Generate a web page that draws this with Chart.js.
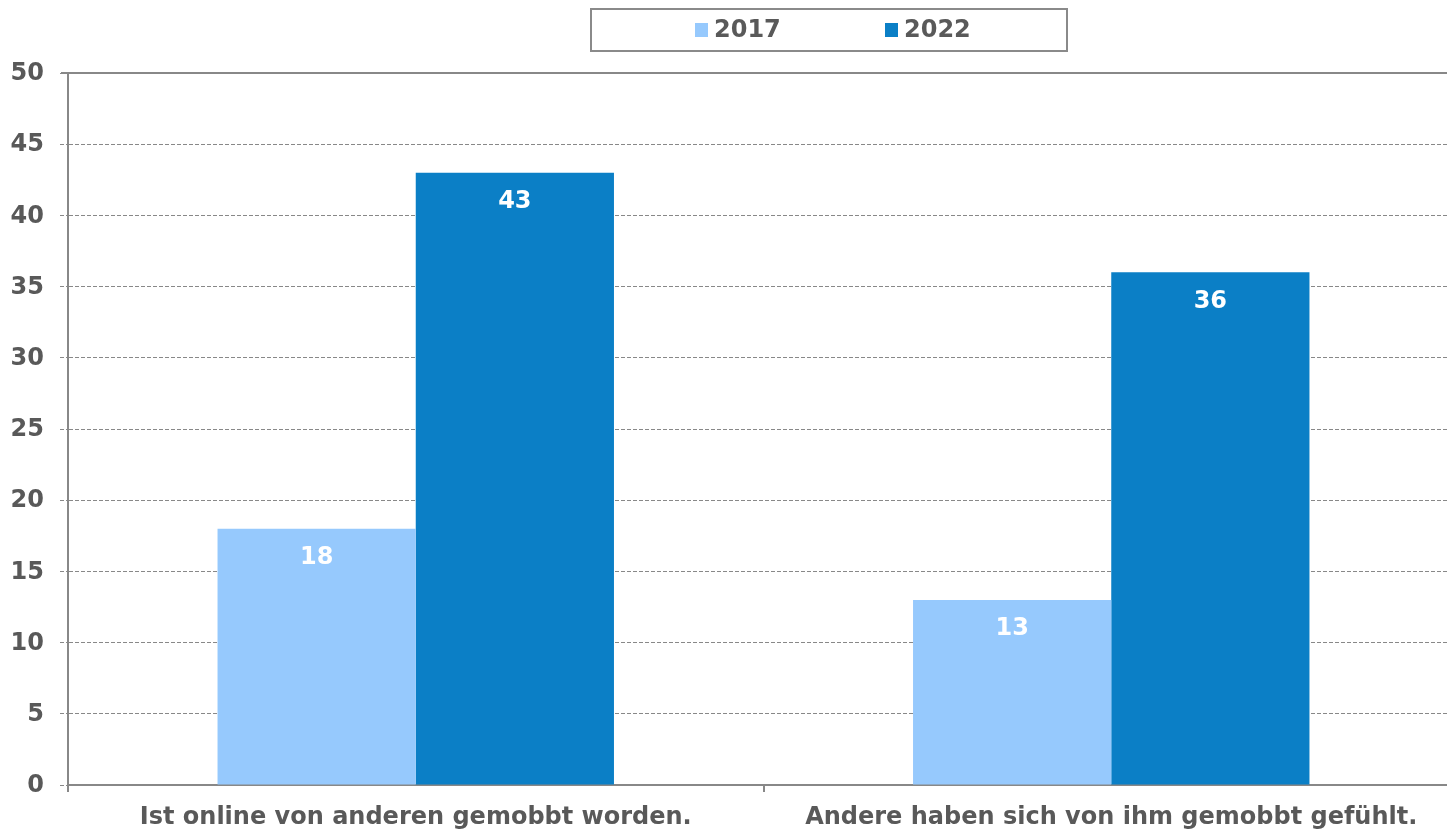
<!DOCTYPE html>
<html>
<head>
<meta charset="utf-8">
<script src="https://cdn.jsdelivr.net/npm/chart.js@4"></script>
<style>
  html, body { margin: 0; padding: 0; background: #fff; overflow: hidden; }
  /* plot area runs a bit past the right edge in the original */
  #wrap { width: 1459px; height: 831px; }
</style>
</head>
<body>
<div id="wrap"><canvas id="bullyChart"></canvas></div>
<script>
// data
const categories = ['Ist online von anderen gemobbt worden.', 'Andere haben sich von ihm gemobbt gefühlt.'];
const seriesNames = ['2017', '2022'];
const values2017 = [18, 13];
const values2022 = [43, 36];
const yTicks = [0, 5, 10, 15, 20, 25, 30, 35, 40, 45, 50];

const FONT = '"DejaVu Sans", Verdana, sans-serif';
const TEXT = '#595959';
const LINE = '#888888';

// white value labels inside top of each bar
const barLabels = {
    id: 'barLabels',
    afterDatasetsDraw(chart) {
        const c = chart.ctx;
        c.save();
        c.fillStyle = '#ffffff';
        c.font = 'bold 24px ' + FONT;
        c.textAlign = 'center';
        c.textBaseline = 'middle';
        chart.data.datasets.forEach(function(ds, i) {
            chart.getDatasetMeta(i).data.forEach(function(bar, j) {
                c.fillText(String(ds.data[j]), bar.x, bar.y + 29);
            });
        });
        c.restore();
    }
};

// y tick labels, solid top line, boxed legend
const frameAndLegend = {
    id: 'frameAndLegend',
    afterDraw(chart) {
        const c = chart.ctx;
        const area = chart.chartArea;
        const y = chart.scales.y;
        c.save();

        c.font = 'bold 24px ' + FONT;
        c.fillStyle = TEXT;
        c.textAlign = 'right';
        c.textBaseline = 'middle';
        yTicks.forEach(function(v) {
            c.fillText(String(v), y.right - 24, y.getPixelForValue(v) + 1);
        });

        c.strokeStyle = LINE;
        c.lineWidth = 2;
        c.beginPath();
        c.moveTo(area.left - 7, area.top);
        c.lineTo(area.right, area.top);
        c.stroke();

        // legend box
        const bx = 591, bw = 476, by = 9, bh = 42;
        c.strokeStyle = '#8a8a8a';
        c.strokeRect(bx, by, bw, bh);

        c.textAlign = 'left';
        const cy = by + bh / 2;
        const starts = [bx + 104, bx + 294];
        chart.data.datasets.forEach(function(ds, i) {
            c.fillStyle = ds.backgroundColor;
            c.fillRect(starts[i], cy - 7, 13, 14);
            c.fillStyle = TEXT;
            c.fillText(ds.label, starts[i] + 19, cy + 1);
        });
        c.restore();
    }
};

new Chart(document.getElementById('bullyChart'), {
    type: 'bar',
    data: {
        labels: categories,
        datasets: [
            { label: seriesNames[0], data: values2017, backgroundColor: '#96C9FD' },
            { label: seriesNames[1], data: values2022, backgroundColor: '#0B7FC6' }
        ]
    },
    options: {
        responsive: true,
        maintainAspectRatio: false,
        animation: false,
        devicePixelRatio: 1,
        layout: { padding: { top: 73, right: 0, left: 0, bottom: 0 } },
        datasets: { bar: { categoryPercentage: 0.57, barPercentage: 1.0 } },
        plugins: {
            legend: { display: false },
            tooltip: { enabled: false }
        },
        scales: {
            x: {
                grid: { display: true, drawOnChartArea: false, drawTicks: true, tickLength: 7, color: LINE, lineWidth: 2, offset: true },
                border: { display: true, color: LINE, width: 2 },
                ticks: { color: TEXT, font: { family: FONT, size: 24, weight: 'bold' }, padding: 11, maxRotation: 0, autoSkip: false },
                afterFit(scale) { scale.height = 46; }
            },
            y: {
                min: 0,
                max: 50,
                afterBuildTicks(scale) { scale.ticks = yTicks.map(function(v) { return { value: v }; }); },
                grid: { color: LINE, lineWidth: 1, tickLength: 8, tickBorderDash: [4, 2] },
                border: { display: true, color: LINE, width: 2, dash: [4, 2] },
                ticks: { display: false },
                afterFit(scale) { scale.width = 68; }
            }
        }
    },
    plugins: [barLabels, frameAndLegend]
});
</script>
</body>
</html>
